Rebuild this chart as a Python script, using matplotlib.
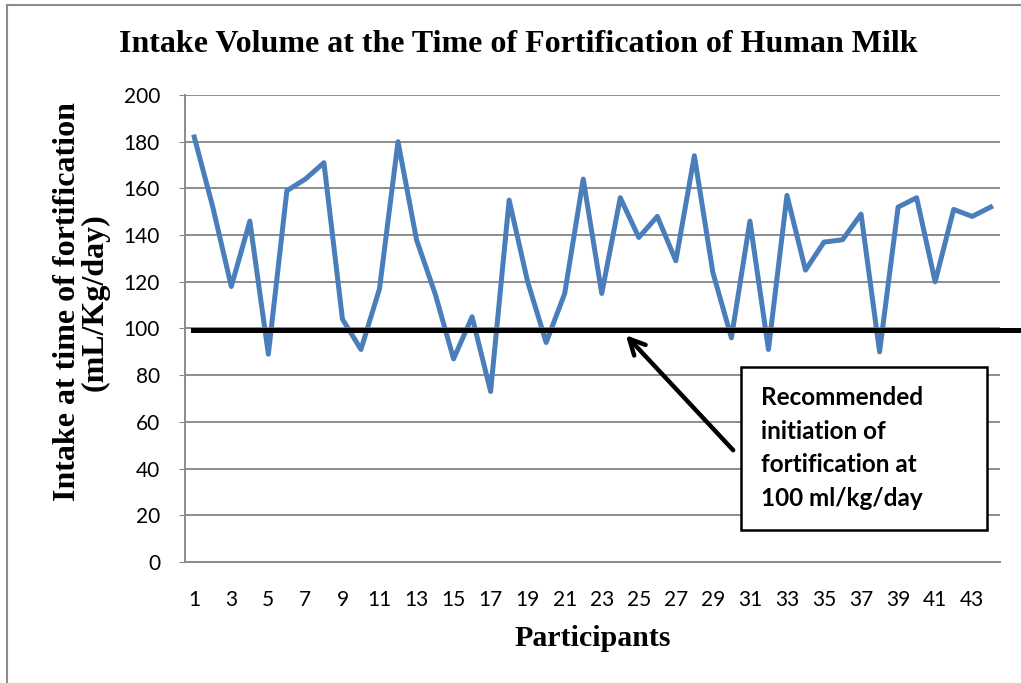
import matplotlib
matplotlib.use("Agg")
from matplotlib import pyplot as plt
from matplotlib.lines import Line2D
from matplotlib.transforms import blended_transform_factory

# Intake volume per participant (mL/Kg/day)
participants = list(range(1, 45))
intake = [182, 152, 118, 146, 89, 159, 164, 171, 104, 91,
          117, 180, 138, 115, 87, 105, 73, 155, 120, 94,
          115, 164, 115, 156, 139, 148, 129, 174, 124, 96,
          146, 91, 157, 125, 137, 138, 149, 90, 152, 156,
          120, 151, 148, 152]
recommended = 99.5
x_ticks = list(range(1, 44, 2))
y_ticks = list(range(0, 201, 20))

serif = "Liberation Serif"
sans = "Lato"


def main():
    fig = plt.figure(figsize=(10.21, 6.83), dpi=100)
    ax = fig.add_axes([0.1812, 0.1772, 0.7982, 0.6837])

    ax.plot(participants, intake, color="#4A7EBB", lw=3.6, solid_joinstyle="round", zorder=3)

    # Recommended threshold line, runs past the plot area to the figure edge
    trans = blended_transform_factory(fig.transFigure, ax.transData)
    fig.add_artist(Line2D([193 / 1021, 1.0], [recommended, recommended], transform=trans,
                          color="black", lw=3.6, zorder=4))

    ax.set_xlim(0.5, 44.5)
    ax.set_ylim(0, 200)
    ax.set_yticks(y_ticks)
    ax.set_xticks(x_ticks)
    ax.set_xticklabels([str(t) for t in x_ticks], fontfamily=sans, fontsize=15)
    ax.set_yticklabels([str(t) for t in y_ticks], fontfamily=sans, fontsize=15)
    ax.tick_params(axis="x", length=0, pad=20)
    ax.tick_params(axis="y", length=4, color="#888888", pad=14)

    ax.grid(axis="y", color="#8C8C8C", lw=1.4)
    ax.set_axisbelow(True)
    for side in ["top", "right"]:
        ax.spines[side].set_visible(False)
    for side in ["left", "bottom"]:
        ax.spines[side].set_color("#8C8C8C")
        ax.spines[side].set_linewidth(1.4)

    fig.text(518 / 1021, 1 - 45 / 683, "Intake Volume at the Time of Fortification of Human Milk",
             ha="center", va="center", fontfamily=serif, fontweight="bold", fontsize=23)
    fig.text(81 / 1021, 1 - 302 / 683, "Intake at time of fortification\n(mL/Kg/day)",
             ha="center", va="center", rotation=90, fontfamily=serif, fontweight="bold",
             fontsize=23, linespacing=0.95)
    fig.text(593 / 1021, 1 - 638 / 683, "Participants", ha="center", va="center",
             fontfamily=serif, fontweight="bold", fontsize=21.5)

    # Annotation box with arrow pointing at the threshold line
    ax.annotate("", xy=(24.2, 98), xytext=(30.2, 47),
                arrowprops=dict(arrowstyle="->", color="black", lw=3.2, mutation_scale=28),
                zorder=5)
    fig.text(761 / 1021, 1 - 448 / 683,
             "Recommended\ninitiation of\nfortification at\n100 ml/kg/day",
             ha="left", va="center", fontfamily=sans, fontweight="bold", fontsize=17.5,
             linespacing=1.55, zorder=6)
    box = plt.Rectangle((741 / 1021, 1 - 530 / 683), 246 / 1021, 163 / 683,
                        transform=fig.transFigure, facecolor="white", edgecolor="black",
                        lw=1.8, zorder=5)
    fig.add_artist(box)

    # outer chart border (top and left)
    fig.add_artist(Line2D([7 / 1021, 1.0], [1 - 5 / 683, 1 - 5 / 683], transform=fig.transFigure,
                          color="#8C8C8C", lw=1.5))
    fig.add_artist(Line2D([7 / 1021, 7 / 1021], [0, 1 - 5 / 683], transform=fig.transFigure,
                          color="#8C8C8C", lw=1.5))

    plt.savefig("out.png", dpi=100)


if __name__ == "__main__":
    main()
